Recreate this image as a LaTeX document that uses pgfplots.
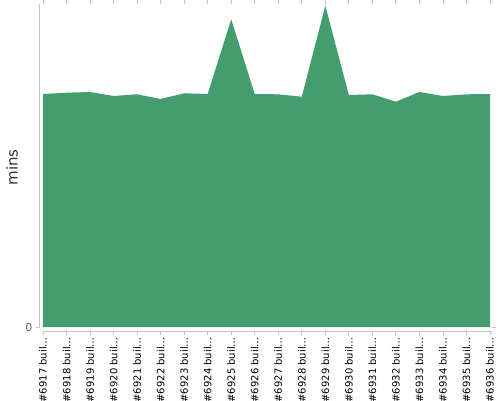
\documentclass[border=0pt]{standalone}
\usepackage{fontspec}
\setmainfont{DejaVu Sans}
\usepackage{pgfplots}
\pgfplotsset{compat=1.18}
\definecolor{area}{HTML}{449D6E}
\definecolor{axgray}{HTML}{C4C4C4}
\begin{document}
\begin{tikzpicture}
\begin{axis}[
 at={(0,0)}, anchor=south west,
 scale only axis, width=452pt, height=327pt,
 xmin=-0.1275, xmax=19.085, ymin=-0.4, ymax=32.3,
 axis line style={draw=none},
 xtick={0,...,19},
 xticklabels={\#6917 buil…,\#6918 buil…,\#6919 buil…,\#6920 buil…,\#6921 buil…,\#6922 buil…,\#6923 buil…,\#6924 buil…,\#6925 buil…,\#6926 buil…,\#6927 buil…,\#6928 buil…,\#6929 buil…,\#6930 buil…,\#6931 buil…,\#6932 buil…,\#6933 buil…,\#6934 buil…,\#6935 buil…,\#6936 buil…},
 ytick={0},
 tick align=outside, major tick length=4pt,
 tick style={axgray, line width=0.8pt},
 /pgf/number format/assume math mode=true,
 ticklabel style={font=\fontsize{10}{12}\selectfont},
 xticklabel style={rotate=90, anchor=east, text=black, inner xsep=2pt},
 yticklabel style={text=black!60, font=\fontsize{11}{13}\selectfont},
 ylabel={mins},
 ylabel style={at={(axis description cs:-0.062,0.5)}, anchor=center, font=\fontsize{15}{17}\selectfont, text=black!80},
 clip=false,
]
\addplot[fill=area, draw=none] table {
x y
0 23.30
1 23.43
2 23.50
3 23.10
4 23.27
5 22.80
6 23.37
7 23.30
8 30.77
9 23.30
10 23.27
11 23.03
12 32.13
13 23.20
14 23.27
15 22.53
16 23.50
17 23.10
18 23.27
19 23.30
} \closedcycle;
\draw[axgray, line width=1pt] (axis cs:-0.1275,0) -- (axis cs:-0.1275,32.3);
\draw[axgray, line width=0.8pt] (axis cs:0,-0.4) -- (axis cs:19.085,-0.4);
\end{axis}
\pgfresetboundingbox
\path[use as bounding box] (-40pt,-69pt) rectangle (460pt,331pt);
\end{tikzpicture}
\end{document}
